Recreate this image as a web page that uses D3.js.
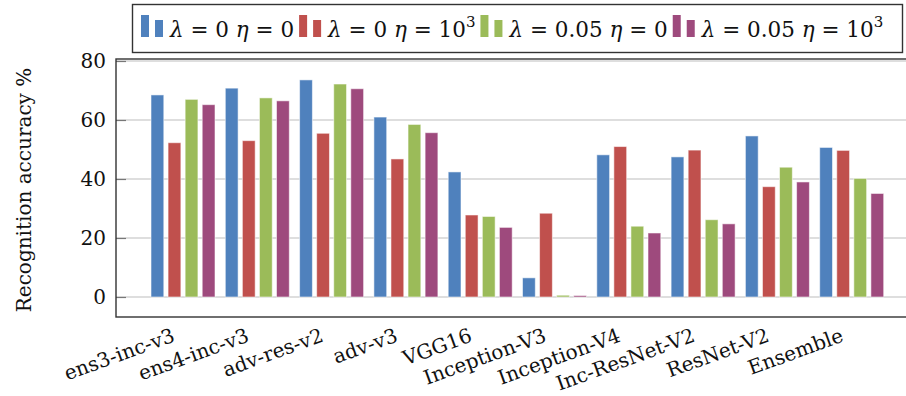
<!DOCTYPE html>
<html>
<head>
<meta charset="utf-8">
<script src="https://cdn.jsdelivr.net/npm/d3@7"></script>
<style>
  body { margin: 0; background: #fff; }
  svg text { font-family: "DejaVu Serif", "Liberation Serif", Times, serif; fill: #111; }
</style>
</head>
<body>
<svg id="chart" width="906" height="396"></svg>
<script>
// categories (models being attacked)
const models = ["ens3-inc-v3", "ens4-inc-v3", "adv-res-v2", "adv-v3", "VGG16",
  "Inception-V3", "Inception-V4", "Inc-ResNet-V2", "ResNet-V2", "Ensemble"];

// recognition accuracy per setting
const lam0eta0 = [68.5, 70.8, 73.6, 61.0, 42.4, 6.5, 48.2, 47.5, 54.6, 50.7];
const lam0eta1000 = [52.3, 53.0, 55.5, 46.8, 27.8, 28.4, 51.0, 49.8, 37.4, 49.7];
const lam005eta0 = [67.0, 67.5, 72.2, 58.5, 27.3, 0.6, 24.0, 26.2, 44.0, 40.2];
const lam005eta1000 = [65.2, 66.5, 70.6, 55.7, 23.6, 0.5, 21.7, 24.8, 39.0, 35.1];

const yTicks = [0, 20, 40, 60, 80];

const seriesList = [
  { key: "s1", values: lam0eta0, color: "#4f81bd", lam: "0", eta: "0" },
  { key: "s2", values: lam0eta1000, color: "#c0504d", lam: "0", eta: "10^3" },
  { key: "s3", values: lam005eta0, color: "#9bbb59", lam: "0.05", eta: "0" },
  { key: "s4", values: lam005eta1000, color: "#9e4a7d", lam: "0.05", eta: "10^3" },
];

const svg = d3.select("#chart");
const plot = { left: 116, top: 59, bottom: 317, right: 912 };

// y scale: plot box runs slightly below 0 and above 80
const y = d3.scaleLinear().domain([-6.78, 80.68]).range([plot.bottom, plot.top]);

// one band per model
const x = d3.scaleBand().domain(models).range([145.85, 888.85]).padding(0);
const inner = d3.scaleBand().domain(seriesList.map(s => s.key))
    .range([-32, 32]).paddingInner(0.25).paddingOuter(0);

// grid lines
svg.append("g")
  .selectAll("line")
  .data(yTicks)
  .join("line")
    .attr("x1", plot.left)
    .attr("x2", plot.right)
    .attr("y1", d => y(d))
    .attr("y2", d => y(d))
    .attr("stroke", "#d3d3d3")
    .attr("stroke-width", 1.6);

// bars
const groups = svg.append("g")
  .selectAll("g")
  .data(seriesList)
  .join("g")
    .attr("fill", d => d.color);

groups.selectAll("rect")
  .data(d => d.values.map((v, i) => ({ key: d.key, model: models[i], value: v })))
  .join("rect")
    .attr("x", d => x(d.model) + x.bandwidth() / 2 + inner(d.key))
    .attr("width", inner.bandwidth())
    .attr("y", d => y(d.value))
    .attr("height", d => y(0) - y(d.value))
    .attr("stroke", "rgba(255,255,255,0.55)")
    .attr("stroke-width", 1);

// y axis ticks (inward) and labels
const yAxis = d3.axisLeft(y).tickValues(yTicks).tickSize(-10).tickPadding(10);
const yg = svg.append("g")
    .attr("transform", `translate(${plot.left},0)`)
    .call(yAxis)
    .attr("font-family", null);
yg.select(".domain").remove();
yg.selectAll(".tick line").attr("stroke", "#777").attr("stroke-width", 1.2);
yg.selectAll(".tick text")
    .attr("fill", null)
    .style("font-size", "20px");

// plot frame
svg.append("rect")
    .attr("x", plot.left)
    .attr("y", plot.top)
    .attr("width", plot.right - plot.left)
    .attr("height", plot.bottom - plot.top)
    .attr("fill", "none")
    .attr("stroke", "#333")
    .attr("stroke-width", 1.4);

// y axis title
svg.append("text")
    .text("Recognition accuracy %")
    .attr("transform", `translate(31, ${(plot.top + plot.bottom) / 2 + 2}) rotate(-90)`)
    .attr("text-anchor", "middle")
    .style("font-size", "20px");

// rotated x labels
svg.append("g")
  .selectAll("text")
  .data(models)
  .join("text")
    .text(d => d)
    .attr("transform", d => `translate(${x(d) + x.bandwidth() / 2 - 7}, 341) rotate(-20)`)
    .attr("text-anchor", "end")
    .style("font-size", "20px");

// legend
const legend = svg.append("g");
legend.append("rect")
    .attr("x", 132.5)
    .attr("y", 4.5)
    .attr("width", 770)
    .attr("height", 48)
    .attr("fill", "#fff")
    .attr("stroke", "#333")
    .attr("stroke-width", 1.4);

let cursor = 141;
for (const s of seriesList) {
  // two little bars like pgfplots ybar legend
  legend.append("rect").attr("x", cursor).attr("y", 15).attr("width", 8).attr("height", 22).attr("fill", s.color);
  legend.append("rect").attr("x", cursor + 14).attr("y", 20).attr("width", 8).attr("height", 17).attr("fill", s.color);
  cursor += 29;
  const t = legend.append("text")
      .attr("x", cursor)
      .attr("y", 37)
      .style("font-size", "21.5px");
  t.append("tspan").text("λ").style("font-style", "italic");
  t.append("tspan").text(" = " + s.lam + "  ");
  t.append("tspan").text("η").style("font-style", "italic");
  if (s.eta === "10^3") {
    t.append("tspan").text(" = 10");
    t.append("tspan").text("3").attr("dy", -10).style("font-size", "15px");
  } else {
    t.append("tspan").text(" = " + s.eta);
  }
  cursor += t.node().getComputedTextLength() + 5;
}
</script>
</body>
</html>
